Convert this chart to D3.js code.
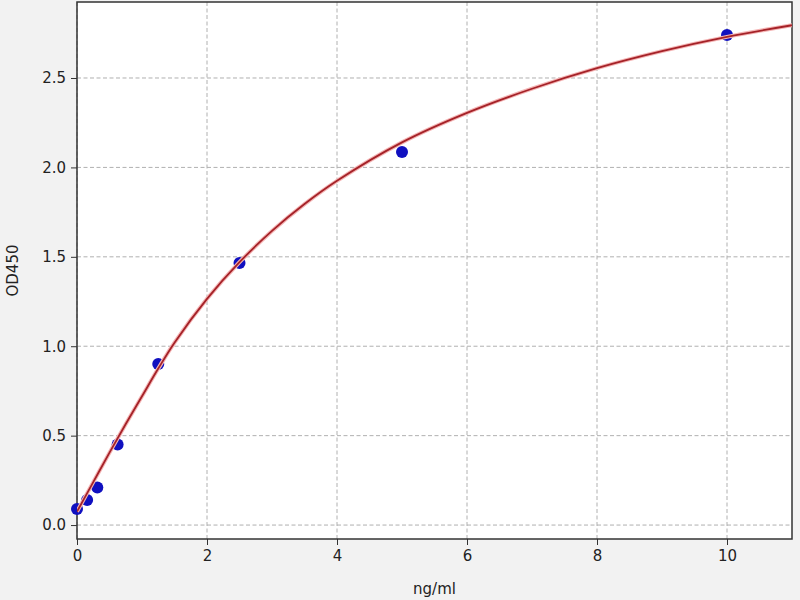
<!DOCTYPE html>
<html>
<head>
<meta charset="utf-8">
<script src="https://cdn.jsdelivr.net/npm/d3@7"></script>
<style>
  body { margin: 0; background: #f2f2f2; }
  svg { display: block; font-family: "DejaVu Sans", sans-serif; }
</style>
</head>
<body>
<svg id="chart"></svg>
<script>
// Standards
const concentrations = [0, 0.156, 0.3125, 0.625, 1.25, 2.5, 5, 10];
const odValues = [0.09, 0.14, 0.21, 0.45, 0.90, 1.465, 2.086, 2.74];

// Fitted curve
const curveX = [0, 0.25, 0.5, 0.75, 1, 1.25, 1.5, 2, 2.5, 3, 3.5, 4, 5, 6, 7, 8, 9, 10, 11];
const curveY = [0.075, 0.24, 0.405, 0.565, 0.72, 0.875, 1.02, 1.265, 1.47, 1.645, 1.795, 1.925, 2.14, 2.305, 2.44, 2.555, 2.65, 2.73, 2.795];

const xTicks = [0, 2, 4, 6, 8, 10];
const yTicks = [0, 0.5, 1.0, 1.5, 2.0, 2.5];

const width = 800;
const height = 600;
const margin = {top: 2, right: 8, bottom: 61, left: 77};
const w = width - margin.left - margin.right;
const h = height - margin.top - margin.bottom;

let svg = d3.select('#chart')
    .attr('width', width)
    .attr('height', height);

svg.append('rect')
    .attr('width', width)
    .attr('height', height)
    .attr('fill', '#f2f2f2');

let g = svg.append('g')
    .attr('transform', 'translate(' + margin.left + ',' + margin.top + ')');

g.append('rect')
    .attr('width', w)
    .attr('height', h)
    .attr('fill', '#ffffff');

let x = d3.scaleLinear().domain([0, 11]).range([0, w]);
let y = d3.scaleLinear().domain([-0.078, 2.925]).range([h, 0]);

// grid
g.append('g').selectAll('line')
    .data(xTicks)
    .join('line')
    .attr('x1', d => x(d)).attr('x2', d => x(d))
    .attr('y1', 0).attr('y2', h)
    .attr('stroke', '#b0b0b0')
    .attr('stroke-width', 1)
    .attr('stroke-dasharray', '4,2.5');

g.append('g').selectAll('line')
    .data(yTicks)
    .join('line')
    .attr('x1', 0).attr('x2', w)
    .attr('y1', d => y(d)).attr('y2', d => y(d))
    .attr('stroke', '#b0b0b0')
    .attr('stroke-width', 1)
    .attr('stroke-dasharray', '4,2.5');

// axes
let xAxis = g.append('g')
    .attr('transform', 'translate(0,' + h + ')')
    .call(d3.axisBottom(x).tickValues(xTicks).tickFormat(d3.format('d')).tickSize(6).tickPadding(5));

let yAxis = g.append('g')
    .call(d3.axisLeft(y).tickValues(yTicks).tickFormat(d3.format('.1f')).tickSize(6).tickPadding(5));

[xAxis, yAxis].forEach(a => {
    a.select('.domain').remove();
    a.selectAll('text').attr('font-size', 15).attr('fill', '#222').attr('font-family', '"DejaVu Sans", sans-serif');
    a.selectAll('line').attr('stroke', '#333');
});

// frame
g.append('rect')
    .attr('width', w)
    .attr('height', h)
    .attr('fill', 'none')
    .attr('stroke', '#333')
    .attr('stroke-width', 1.5);

// points
g.append('g').selectAll('circle')
    .data(concentrations)
    .join('circle')
    .attr('cx', d => x(d))
    .attr('cy', (d, i) => y(odValues[i]))
    .attr('r', 6)
    .attr('fill', '#1010c0');

// fitted curve (drawn over the points)
svg.append('clipPath').attr('id', 'clip')
    .append('rect').attr('width', w).attr('height', h);

let curveLine = d3.line()
    .x(d => x(d[0]))
    .y(d => y(d[1]))
    .curve(d3.curveCatmullRom.alpha(0.5));

let curveData = curveX.map((d, i) => [d, curveY[i]]);

g.append('path')
    .datum(curveData)
    .attr('clip-path', 'url(#clip)')
    .attr('fill', 'none')
    .attr('stroke', '#f4b5b5')
    .attr('stroke-width', 4)
    .attr('d', curveLine);

g.append('path')
    .datum(curveData)
    .attr('clip-path', 'url(#clip)')
    .attr('fill', 'none')
    .attr('stroke', '#a52228')
    .attr('stroke-width', 1.8)
    .attr('d', curveLine);

// labels
svg.append('text')
    .attr('x', margin.left + w / 2)
    .attr('y', 594)
    .attr('text-anchor', 'middle')
    .attr('font-size', 15)
    .attr('fill', '#222')
    .text('ng/ml');

svg.append('text')
    .attr('transform', 'translate(18,' + (margin.top + h / 2) + ') rotate(-90)')
    .attr('text-anchor', 'middle')
    .attr('font-size', 15)
    .attr('fill', '#222')
    .text('OD450');
</script>
</body>
</html>
